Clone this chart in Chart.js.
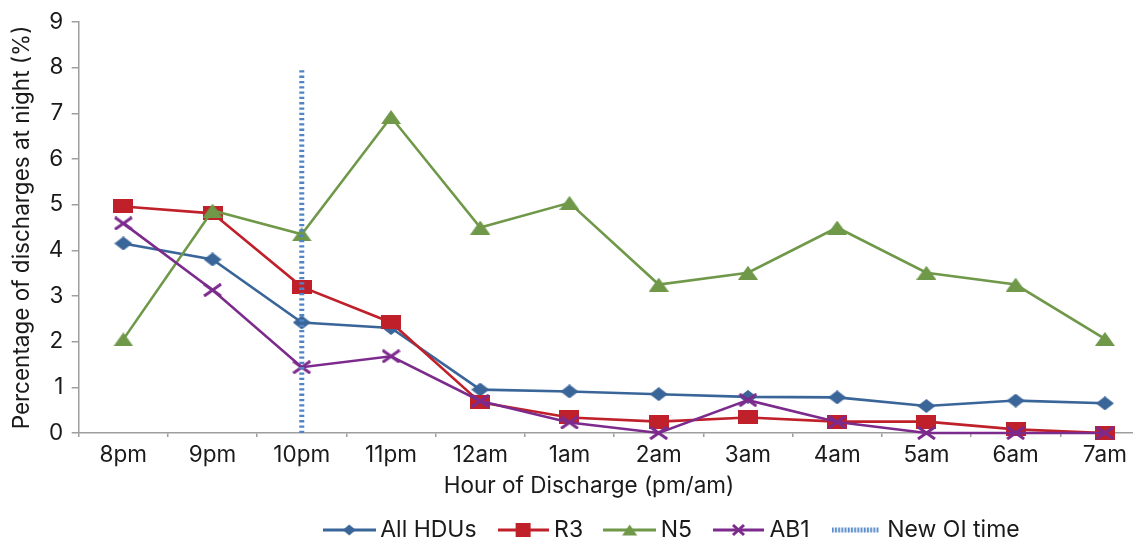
<!DOCTYPE html>
<html><head><meta charset="utf-8">
<script src="https://cdn.jsdelivr.net/npm/chart.js@4.4.1/dist/chart.umd.min.js"></script>
<style>
html,body{margin:0;padding:0;background:#fff;overflow:hidden;width:1133px;height:543px}
#wrap{position:absolute;left:0;top:0;width:1160px;height:543px}
canvas{display:block}
</style></head>
<body><div id="wrap"><canvas id="c" width="1160" height="543"></canvas></div>
<script>
// ---- data ----
const categories = ['8pm','9pm','10pm','11pm','12am','1am','2am','3am','4am','5am','6am','7am'];
const allHDUs = [4.15, 3.80, 2.42, 2.30, 0.95, 0.91, 0.85, 0.79, 0.78, 0.59, 0.71, 0.65];
const r3      = [4.96, 4.81, 3.20, 2.42, 0.67, 0.34, 0.25, 0.34, 0.25, 0.25, 0.08, 0.00];
const n5      = [2.05, 4.87, 4.35, 6.92, 4.50, 5.04, 3.25, 3.51, 4.50, 3.51, 3.25, 2.06];
const ab1     = [4.59, 3.13, 1.44, 1.68, 0.70, 0.23, 0.00, 0.72, 0.24, 0.00, 0.00, 0.00];
const seriesNames = ['All HDUs', 'R3', 'N5', 'AB1', 'New OI time'];
const oiCategory = '10pm';
const oiRange = [0, 8];
const yMin = 0, yMax = 9, yStep = 1;
const xTitle = 'Hour of Discharge (pm/am)';
const yTitle = 'Percentage of discharges at night (%)';

// ---- styles ----
const FONT = 'Inter';
const FS = 22.5;
const LFS = 23;
const LPAD = 27;
const TXT = '#1a1a1a';
const AXIS = '#9e9e9e';
const C_BLUE = '#3a6599', C_RED = '#c0202a', C_GREEN = '#6f9849', C_PURPLE = '#7c2b8d', C_OI = '#4f84c6';

function drawShape(g, shape, color, cx, cy, w, h) {
  g.fillStyle = color; g.strokeStyle = color;
  if (shape === 'diamond') {
    g.beginPath(); g.moveTo(cx, cy - h/2); g.lineTo(cx + w/2, cy); g.lineTo(cx, cy + h/2); g.lineTo(cx - w/2, cy); g.closePath(); g.fill();
  } else if (shape === 'square') {
    g.fillRect(cx - w/2, cy - h/2, w, h);
  } else if (shape === 'triangle') {
    g.beginPath(); g.moveTo(cx, cy - h/2); g.lineTo(cx + w/2, cy + h/2); g.lineTo(cx - w/2, cy + h/2); g.closePath(); g.fill();
  } else if (shape === 'cross') {
    g.lineWidth = 3; g.lineCap = 'butt';
    g.beginPath(); g.moveTo(cx - w/2 + 1, cy - h/2 + 1); g.lineTo(cx + w/2 - 1, cy + h/2 - 1);
    g.moveTo(cx + w/2 - 1, cy - h/2 + 1); g.lineTo(cx - w/2 + 1, cy + h/2 - 1); g.stroke();
  }
}
function marker(shape, color, w, h) {
  const c = document.createElement('canvas'); c.width = w; c.height = h;
  drawShape(c.getContext('2d'), shape, color, w/2, h/2, w, h);
  return c;
}
function legendIcon(shape, color, lw, w, h) {
  const H = 16;
  const c = document.createElement('canvas'); c.width = lw; c.height = H;
  const g = c.getContext('2d');
  if (shape === 'dotted') {
    g.fillStyle = color;
    for (let x = 0; x < lw - 1; x += 3.2) g.fillRect(x, H/2 - 2.5, 1.8, 5);
    return c;
  }
  g.strokeStyle = color; g.lineWidth = 3;
  g.beginPath(); g.moveTo(0, H/2); g.lineTo(lw, H/2); g.stroke();
  drawShape(g, shape, color, lw/2, H/2, w, h);
  return c;
}

const markers = [
  marker('diamond', C_BLUE, 18, 14),
  marker('square', C_RED, 20, 14),
  marker('triangle', C_GREEN, 20, 14),
  marker('cross', C_PURPLE, 19, 14)
];
const icons = [
  legendIcon('diamond', C_BLUE, 53, 13, 11),
  legendIcon('square', C_RED, 51, 15, 14),
  legendIcon('triangle', C_GREEN, 53, 15, 11),
  legendIcon('cross', C_PURPLE, 51, 13, 12),
  legendIcon('dotted', C_OI, 49)
];

function lineDs(label, data, color, mk, order) {
  return { label, data, borderColor: color, backgroundColor: color, borderWidth: 2.6, tension: 0,
    pointStyle: mk, pointRadius: 8, pointHoverRadius: 8, pointBorderWidth: 0, clip: false, order };
}

const LEGEND_START_X = 329.7, LEGEND_CENTER_Y = 530;
const tweak = {
  id: 'tweak',
  afterLayout(chart) {
    const lg = chart.legend; if (!lg || !lg.lineWidths) return;
    const pad = lg.options.labels.padding;
    const fs = lg.options.labels.font.size;
    const x0 = (lg.left + pad + lg.right - lg.lineWidths[0]) / 2;
    const dx = LEGEND_START_X - x0;
    lg.left += dx; lg.right += dx;
    const cy = lg.top + pad + fs / 2;
    const dy = LEGEND_CENTER_Y - cy;
    lg.top += dy; lg.bottom += dy;
  },
  afterDraw(chart) {
    const ctx = chart.ctx; ctx.save();
    ctx.font = FS + 'px ' + FONT; ctx.fillStyle = TXT; ctx.textAlign = 'center'; ctx.textBaseline = 'middle';
    ctx.fillText(xTitle, 589, 486);
    ctx.restore();
  }
};

new Chart(document.getElementById('c'), {
  type: 'line',
  data: {
    labels: categories,
    datasets: [
      lineDs(seriesNames[0], allHDUs, C_BLUE, markers[0], 5),
      lineDs(seriesNames[1], r3, C_RED, markers[1], 4),
      lineDs(seriesNames[2], n5, C_GREEN, markers[2], 3),
      lineDs(seriesNames[3], ab1, C_PURPLE, markers[3], 2),
      { label: seriesNames[4], data: [{x: oiCategory, y: oiRange[0]}, {x: oiCategory, y: oiRange[1]}],
        borderColor: C_OI, backgroundColor: C_OI, borderWidth: 5, borderDash: [2.3, 3], borderCapStyle: 'butt',
        pointRadius: 0, clip: false, order: 1 }
    ]
  },
  options: {
    responsive: false, animation: false, devicePixelRatio: 1, events: [],
    layout: { padding: { top: 22, right: 10.5, bottom: 0, left: 0 } },
    plugins: {
      tooltip: { enabled: false },
      legend: {
        position: 'bottom',
        labels: {
          font: { family: FONT, size: LFS }, color: TXT, usePointStyle: true, pointStyleWidth: 39, padding: LPAD,
          generateLabels: (chart) => chart.data.datasets.map((ds, i) => ({
            text: ds.label, pointStyle: icons[i], fillStyle: ds.borderColor, strokeStyle: ds.borderColor,
            lineWidth: 0, hidden: false, datasetIndex: i, fontColor: TXT
          }))
        }
      }
    },
    scales: {
      x: {
        type: 'category', offset: true,
        grid: { offset: true, drawOnChartArea: false, drawTicks: true, tickLength: 4, color: AXIS, lineWidth: 1.5 },
        border: { display: true, color: AXIS, width: 1.5 },
        ticks: { font: { family: FONT, size: FS }, color: TXT, maxRotation: 0, autoSkip: false, padding: 5 },
        afterFit: (s) => { s.height = 110 - (LFS + LPAD + 10); }
      },
      y: {
        min: yMin, max: yMax,
        grid: { drawOnChartArea: false, drawTicks: true, tickLength: 7, color: AXIS, lineWidth: 1.5 },
        border: { display: true, color: AXIS, width: 1.5 },
        ticks: { stepSize: yStep, font: { family: FONT, size: FS }, color: TXT, padding: 8.4 },
        title: { display: true, text: yTitle, font: { family: FONT, size: FS }, color: TXT, padding: { top: 9, bottom: 0 } },
        afterFit: (s) => { s.width = 78.7; }
      }
    }
  },
  plugins: [tweak]
});
</script>
</body></html>
